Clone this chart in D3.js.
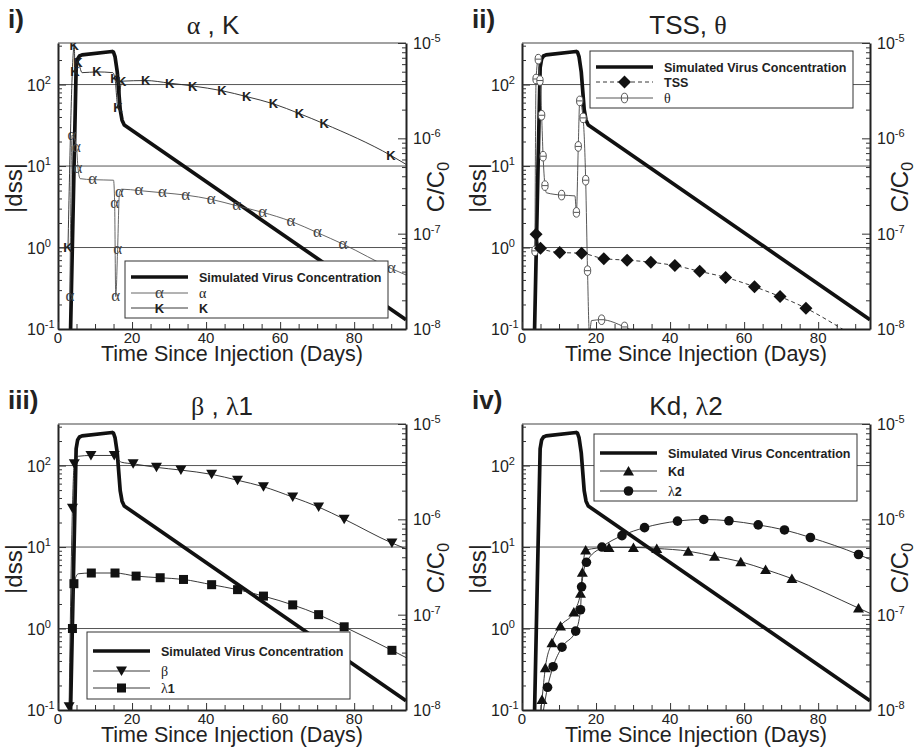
<!DOCTYPE html>
<html>
<head>
<meta charset="utf-8">
<script src="https://cdn.jsdelivr.net/npm/d3@7"></script>
<style>
  body { margin: 0; background: #fff; }
  text { font-family: "Liberation Sans", Arial, sans-serif; fill: #222; }
  .serif { font-family: "Liberation Serif", "DejaVu Serif", serif; }
</style>
</head>
<body>
<script>
// time axis is shared, days since injection
const xMax = 94;

// simulated virus concentration, C/C0 (right axis) - same curve in every panel
const virus = [[3.4, 1e-8], [4.9, 5.5e-6], [5.3, 6.8e-6], [5.8, 7.3e-6], [6.5, 7.5e-6], [14.6, 8.15e-6],
  [15.0, 8.0e-6], [15.4, 7.2e-6], [16.0, 5e-6], [16.8, 2e-6], [17.3, 1.55e-6], [17.9, 1.38e-6],
  [94, 1.25e-8]];

// |dss| sensitivities, [day, value, drawMarker]
const alphaS = [[3.2, 0.25, 1], [3.8, 24, 1], [5.0, 17, 1], [5.4, 9.4, 1], [6.0, 7.0, 0], [9.4, 6.8, 1],
  [15.0, 6.7, 0], [15.3, 3.5, 1], [15.6, 0.25, 1], [16.1, 0.95, 1], [16.6, 4.7, 1], [17.2, 5.2, 0],
  [21.9, 5.0, 1], [28.2, 4.7, 1], [34.5, 4.4, 1], [41.4, 3.9, 1], [48.3, 3.25, 1], [55.3, 2.7, 1],
  [62.9, 2.1, 1], [70.1, 1.52, 1], [77, 1.1, 1], [90.1, 0.55, 1], [94, 0.46, 0]];
const kappaS = [[2.7, 1.0, 1], [4.4, 305, 1], [4.6, 143, 1], [5.4, 185, 1], [6.5, 140, 0], [10.5, 143, 1],
  [14.8, 140, 0], [15.4, 117, 1], [16.2, 53, 1], [17.2, 110, 1], [23.7, 112, 1], [30.2, 104, 1],
  [36.4, 96, 1], [44.3, 84, 1], [51, 71, 1], [58.2, 58, 1], [65.2, 44, 1], [71.9, 33, 1],
  [89.9, 13.5, 1], [94, 10.5, 0]];
const tssS = [[3.8, 1.46, 1], [5.0, 0.98, 1], [10.2, 0.87, 1], [16.1, 0.85, 1], [22.1, 0.73, 1],
  [28.4, 0.70, 1], [34.8, 0.66, 1], [41.3, 0.60, 1], [48, 0.51, 1], [55, 0.43, 1], [62.8, 0.33, 1],
  [69.7, 0.25, 1], [76.7, 0.18, 1], [86.5, 0.1, 0], [90, 0.08, 0]];
const thetaS = [[3.5, 0.91, 1], [3.8, 117, 1], [4.4, 205, 1], [4.85, 112, 1], [5.3, 42, 1], [5.7, 13.2, 1],
  [6.2, 5.75, 1], [6.6, 4.7, 0], [10.7, 4.4, 1], [14.3, 4.3, 0], [14.7, 2.7, 1], [15.2, 17.4, 1],
  [15.6, 63, 1], [16.5, 39, 1], [17.2, 6.7, 1], [17.7, 0.52, 1], [18.2, 0.09, 0], [18.8, 0.127, 0],
  [21.5, 0.13, 1], [27.7, 0.106, 1], [30, 0.095, 0]];
const betaS = [[3.0, 0.11, 1], [3.9, 30, 1], [4.4, 105, 1], [5.5, 130, 0], [8.9, 133, 1], [15.2, 133, 1],
  [17.1, 110, 0], [20.3, 105, 1], [26.6, 95, 1], [33.2, 88, 1], [41.5, 78, 1], [48.5, 66, 1],
  [55.5, 55, 1], [63.4, 41, 1], [70.4, 31, 1], [77.3, 22, 1], [90.2, 11.2, 1], [94, 9.5, 0]];
const lambda1S = [[3.9, 1.0, 1], [4.3, 3.55, 1], [5.5, 4.7, 0], [9.0, 4.8, 1], [15.4, 4.8, 1],
  [21.1, 4.4, 1], [27.6, 4.2, 1], [33.9, 4.0, 1], [41.5, 3.45, 1], [48.5, 3.0, 1], [55.5, 2.5, 1],
  [63.4, 1.95, 1], [70.4, 1.48, 1], [77.3, 1.05, 1], [90.2, 0.54, 1], [94, 0.44, 0]];
const kdS = [[5.0, 0.09, 0], [5.4, 0.135, 1], [6.3, 0.33, 1], [8.1, 0.67, 1], [10.4, 1.07, 1],
  [14.0, 1.6, 1], [15.8, 2.7, 1], [16.3, 4.9, 1], [17.2, 9.2, 1], [23.5, 9.9, 1], [30.1, 9.9, 1],
  [36.4, 9.6, 1], [44.9, 8.9, 1], [52, 7.7, 1], [59.1, 6.6, 1], [65.8, 5.3, 1], [72.9, 4.1, 1],
  [90.9, 1.78, 1], [94.5, 1.5, 0]];
const lambda2S = [[5.8, 0.1, 0], [6.9, 0.19, 1], [8.4, 0.34, 1], [10.8, 0.59, 1], [14.5, 0.93, 1],
  [15.8, 1.7, 1], [16.1, 3.25, 1], [17.4, 6.5, 1], [21.6, 10, 1], [27, 13.8, 1], [33.1, 17.3, 1],
  [42, 20.8, 1], [49.1, 21.8, 1], [55.9, 21, 1], [63.8, 18.7, 1], [70.9, 16.2, 1], [77.9, 13.1, 1],
  [90.9, 8.1, 1], [94.5, 6.9, 0]];

// tick values
const xMajor = [0, 20, 40, 60, 80];
const leftMajor = [0.1, 1, 10, 100];
const leftExp = ["-1", "0", "1", "2"];
const rightMajor = [1e-8, 1e-7, 1e-6, 1e-5];
const rightExp = ["-8", "-7", "-6", "-5"];

const W = 348, H = 286;
const svg = d3.select("body").append("svg").attr("width", 918).attr("height", 748);

const x = d3.scaleLinear().domain([0, xMax]).range([0, W]);
const yL = d3.scaleLog().domain([0.1, Math.pow(10, 2.51)]).range([H, 0]);
const yR = d3.scaleLog().domain([1e-8, 1e-5]).range([H, 0]);

function logMinor(lo, hi) {
  const out = [];
  for (let e = lo; e < hi; e++)
    for (let k = 2; k <= 9; k++) out.push(k * Math.pow(10, e));
  return out;
}

function drawMarker(g, type, cx, cy) {
  if (type === "alpha") {
    g.append("text").attr("class", "serif").attr("x", cx).attr("y", cy + 4.5)
      .attr("text-anchor", "middle").style("font-size", "17px").style("fill", "#444").text("α");
  } else if (type === "kappa") {
    g.append("text").attr("x", cx).attr("y", cy + 4.5).attr("text-anchor", "middle")
      .style("font-size", "13px").style("font-weight", "bold").style("fill", "#222").text("K");
  } else if (type === "theta") {
    g.append("ellipse").attr("cx", cx).attr("cy", cy).attr("rx", 3.2).attr("ry", 4.8)
      .attr("fill", "#fff").attr("stroke", "#555").attr("stroke-width", 1);
    g.append("line").attr("x1", cx - 3).attr("x2", cx + 3).attr("y1", cy).attr("y2", cy)
      .attr("stroke", "#555").attr("stroke-width", 1);
  } else if (type === "diamond") {
    g.append("path").attr("d", `M${cx},${cy - 6.5}L${cx + 6.5},${cy}L${cx},${cy + 6.5}L${cx - 6.5},${cy}Z`).attr("fill", "#111");
  } else if (type === "triDown") {
    g.append("path").attr("d", `M${cx - 5.5},${cy - 4.5}L${cx + 5.5},${cy - 4.5}L${cx},${cy + 5}Z`).attr("fill", "#111");
  } else if (type === "triUp") {
    g.append("path").attr("d", `M${cx - 5.5},${cy + 4.5}L${cx + 5.5},${cy + 4.5}L${cx},${cy - 5}Z`).attr("fill", "#111");
  } else if (type === "square") {
    g.append("rect").attr("x", cx - 4.5).attr("y", cy - 4.5).attr("width", 9).attr("height", 9).attr("fill", "#111");
  } else if (type === "circle") {
    g.append("circle").attr("cx", cx).attr("cy", cy).attr("r", 4.8).attr("fill", "#111");
  }
}

const panels = [
  { label: "i)", ox: 58, oy: 43, titleX: 155,
    title: [["α", true], [" , K", false]],
    series: [{ data: alphaS, marker: "alpha", color: "#555", dash: null, name: [["α", true]] },
             { data: kappaS, marker: "kappa", color: "#222", dash: null, name: [["K", false]] }],
    legend: { x: 67, y: 218, h: 57, rows: [16, 32, 47] } },
  { label: "ii)", ox: 522, oy: 43, titleX: 166,
    title: [["TSS, ", false], ["θ", true]],
    series: [{ data: thetaS, marker: "theta", color: "#444", dash: null, name: [["θ", true]] },
             { data: tssS, marker: "diamond", color: "#222", dash: "4,3", name: [["TSS", false]] }],
    legendOrder: [1, 0],
    legend: { x: 68, y: 8, h: 57, rows: [16, 31, 47] } },
  { label: "iii)", ox: 58, oy: 424, titleX: 164,
    title: [["β", true], [" , ", false], ["λ", true], ["1", false]],
    series: [{ data: betaS, marker: "triDown", color: "#222", dash: null, name: [["β", true]] },
             { data: lambda1S, marker: "square", color: "#222", dash: null, name: [["λ", true], ["1", false]] }],
    legend: { x: 29, y: 208, h: 67, rows: [19, 39, 56] } },
  { label: "iv)", ox: 522, oy: 424, titleX: 164,
    title: [["Kd, ", false], ["λ", true], ["2", false]],
    series: [{ data: kdS, marker: "triUp", color: "#222", dash: null, name: [["Kd", false]] },
             { data: lambda2S, marker: "circle", color: "#222", dash: null, name: [["λ", true], ["2", false]] }],
    legend: { x: 72, y: 10, h: 67, rows: [19, 37, 57] } }
];

panels.forEach((p, pi) => {
  const g = svg.append("g").attr("transform", `translate(${p.ox},${p.oy})`);
  const clipId = "clip" + pi;
  g.append("clipPath").attr("id", clipId).append("rect").attr("width", W).attr("height", H);

  // horizontal grid lines at 1, 10, 100
  g.selectAll(".grid").data([1, 10, 100]).enter().append("line")
    .attr("x1", 0).attr("x2", W).attr("y1", d => yL(d)).attr("y2", d => yL(d))
    .attr("stroke", "#555").attr("stroke-width", 1);

  const plot = g.append("g").attr("clip-path", `url(#${clipId})`);

  // virus concentration
  const vLine = d3.line().x(d => x(d[0])).y(d => yR(d[1]));
  plot.append("path").attr("d", vLine(virus)).attr("fill", "none")
    .attr("stroke", "#111").attr("stroke-width", 3.7).attr("stroke-linejoin", "round");

  // sensitivity series
  const sLine = d3.line().x(d => x(d[0])).y(d => yL(d[1])).curve(d3.curveMonotoneX);
  p.series.forEach(s => {
    plot.append("path").attr("d", sLine(s.data)).attr("fill", "none")
      .attr("stroke", s.color).attr("stroke-width", 0.9)
      .attr("stroke-dasharray", s.dash);
    s.data.filter(d => d[2]).forEach(d => drawMarker(plot, s.marker, x(d[0]), yL(d[1])));
  });

  // frame and axes
  g.append("line").attr("x1", 0).attr("x2", W).attr("y1", 0).attr("y2", 0)
    .attr("stroke", "#444").attr("stroke-width", 1.2);

  const axL = g.append("g").call(d3.axisLeft(yL).tickValues(leftMajor).tickSizeInner(-8).tickSizeOuter(0).tickFormat(""));
  g.append("g").call(d3.axisLeft(yL).tickValues(logMinor(-1, 3).filter(v => v < 320)).tickSizeInner(-4).tickSizeOuter(0).tickFormat(""))
    .select(".domain").remove();
  const axR = g.append("g").attr("transform", `translate(${W},0)`)
    .call(d3.axisRight(yR).tickValues(rightMajor).tickSizeInner(-8).tickSizeOuter(0).tickFormat(""));
  g.append("g").attr("transform", `translate(${W},0)`)
    .call(d3.axisRight(yR).tickValues(logMinor(-8, -5)).tickSizeInner(-4).tickSizeOuter(0).tickFormat(""))
    .select(".domain").remove();
  const axB = g.append("g").attr("transform", `translate(0,${H})`)
    .call(d3.axisBottom(x).tickValues(xMajor).tickSizeInner(-7).tickSizeOuter(0).tickFormat(""));
  g.append("g").attr("transform", `translate(0,${H})`)
    .call(d3.axisBottom(x).tickValues(d3.range(5, xMax, 5).filter(v => v % 20 !== 0)).tickSizeInner(-5).tickSizeOuter(0).tickFormat(""))
    .select(".domain").remove();
  [axL, axR, axB].forEach(a => a.select(".domain").attr("stroke", "#222").attr("stroke-width", 2));
  g.selectAll(".tick line").attr("stroke", "#333");

  // tick labels
  leftMajor.forEach((v, i) => {
    const t = g.append("text").attr("x", -31).attr("y", yL(v) + 6).style("font-size", "16px");
    t.append("tspan").text("10");
    t.append("tspan").attr("dy", -7).style("font-size", "11px").text(leftExp[i]);
  });
  rightMajor.forEach((v, i) => {
    const t = g.append("text").attr("x", W + 7).attr("y", yR(v) + 6).style("font-size", "16px");
    t.append("tspan").text("10");
    t.append("tspan").attr("dy", -7).style("font-size", "11px").text(rightExp[i]);
  });
  xMajor.forEach(v => {
    g.append("text").attr("x", x(v)).attr("y", H + 14).attr("text-anchor", "middle")
      .style("font-size", "15px").text(v);
  });

  // axis titles
  g.append("text").attr("x", W / 2).attr("y", H + 32).attr("text-anchor", "middle")
    .style("font-size", "21.5px").text("Time Since Injection (Days)");
  g.append("text").attr("transform", `translate(-36,${H / 2 + 2}) rotate(-90)`)
    .attr("text-anchor", "middle").style("font-size", "24px").text("|dss|");
  const cr = g.append("text").attr("transform", `translate(${W + 38},${H / 2 + 1}) rotate(-90)`)
    .attr("text-anchor", "middle").style("font-size", "24px");
  cr.append("tspan").text("C/C");
  cr.append("tspan").attr("dy", 5).style("font-size", "16px").text("0");

  // panel label and title
  g.append("text").attr("x", -50).attr("y", -15).style("font-size", "26px")
    .style("font-weight", "bold").text(p.label);
  const tt = g.append("text").attr("x", p.titleX).attr("y", -9).attr("text-anchor", "middle")
    .style("font-size", "26px");
  p.title.forEach(part => tt.append("tspan").attr("class", part[1] ? "serif" : null).text(part[0]));

  // legend
  const L = p.legend;
  const lg = g.append("g").attr("transform", `translate(${L.x},${L.y})`);
  lg.append("rect").attr("width", 263).attr("height", L.h).attr("fill", "#fff")
    .attr("stroke", "#333").attr("stroke-width", 1);
  lg.append("line").attr("x1", 6).attr("x2", 63).attr("y1", L.rows[0]).attr("y2", L.rows[0])
    .attr("stroke", "#111").attr("stroke-width", 3.7);
  lg.append("text").attr("x", 74).attr("y", L.rows[0] + 4.5).style("font-size", "12.5px")
    .style("font-weight", "bold").text("Simulated Virus Concentration");
  const order = p.legendOrder || [0, 1];
  order.forEach((si, k) => {
    const s = p.series[si];
    const ry = L.rows[k + 1];
    lg.append("line").attr("x1", 6).attr("x2", 63).attr("y1", ry).attr("y2", ry)
      .attr("stroke", s.color).attr("stroke-width", 0.9).attr("stroke-dasharray", s.dash);
    drawMarker(lg, s.marker, 34.5, ry);
    const nt = lg.append("text").attr("x", 74).attr("y", ry + 4.5).style("font-size", "12.5px");
    s.name.forEach(part => nt.append("tspan")
      .attr("class", part[1] ? "serif" : null)
      .style("font-weight", part[1] ? "normal" : "bold")
      .style("font-size", part[1] ? "14px" : "12.5px")
      .text(part[0]));
  });
});
</script>
</body>
</html>
